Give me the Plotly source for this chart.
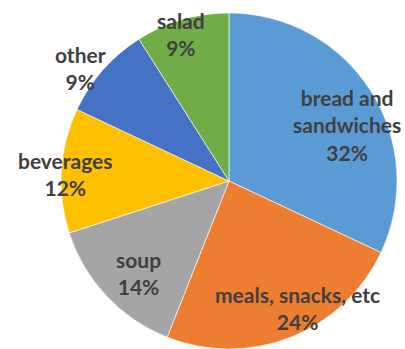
import math
import plotly.graph_objects as go

categories = ["bread and sandwiches", "meals, snacks, etc", "soup", "beverages", "other", "salad"]
label_text = ["bread and<br>sandwiches", "meals, snacks, etc", "soup", "beverages", "other", "salad"]
values = [32, 24, 14, 12, 9, 9]
colors = ["#5B9BD5", "#ED7D31", "#A5A5A5", "#FFC000", "#4472C4", "#70AD47"]

# label placement (style): radial fraction and angular tweak in degrees
label_r = [0.777, 0.857, 0.766, 0.977, 1.113, 0.92]
label_da = [7.0, -6.6, -2.4, -1.2, -4.2, -1.9]

W, H = 405, 349
cx, cy, R = 229, 181, 168  # pie centre / radius in px (from top-left)

fig = go.Figure(go.Pie(
    labels=categories,
    values=values,
    marker=dict(colors=colors, line=dict(color="white", width=0.6)),
    sort=False,
    direction="clockwise",
    rotation=0,
    textinfo="none",
    hoverinfo="skip",
    showlegend=False,
    domain=dict(x=[(cx - R) / W, (cx + R) / W], y=[(H - cy - R) / H, (H - cy + R) / H]),
))

total = sum(values)
cum = 0
annotations = []
for i, v in enumerate(values):
    mid = (cum + v / 2) / total * 360 + label_da[i]
    cum += v
    th = math.radians(mid)
    px = cx + label_r[i] * R * math.sin(th)
    py = cy - label_r[i] * R * math.cos(th)
    pct = round(v / total * 100)
    annotations.append(dict(
        x=px / W, y=(H - py) / H, xref="paper", yref="paper",
        text=f"{label_text[i]}<br>{pct}%", showarrow=False,
        font=dict(family="Lato", size=21, color="#404040", weight="bold"),
        xanchor="center", yanchor="middle", align="center",
    ))

fig.update_layout(
    width=W, height=H,
    margin=dict(l=0, r=0, t=0, b=0),
    paper_bgcolor="white", plot_bgcolor="white",
    annotations=annotations,
)
fig.write_html("out.html")
